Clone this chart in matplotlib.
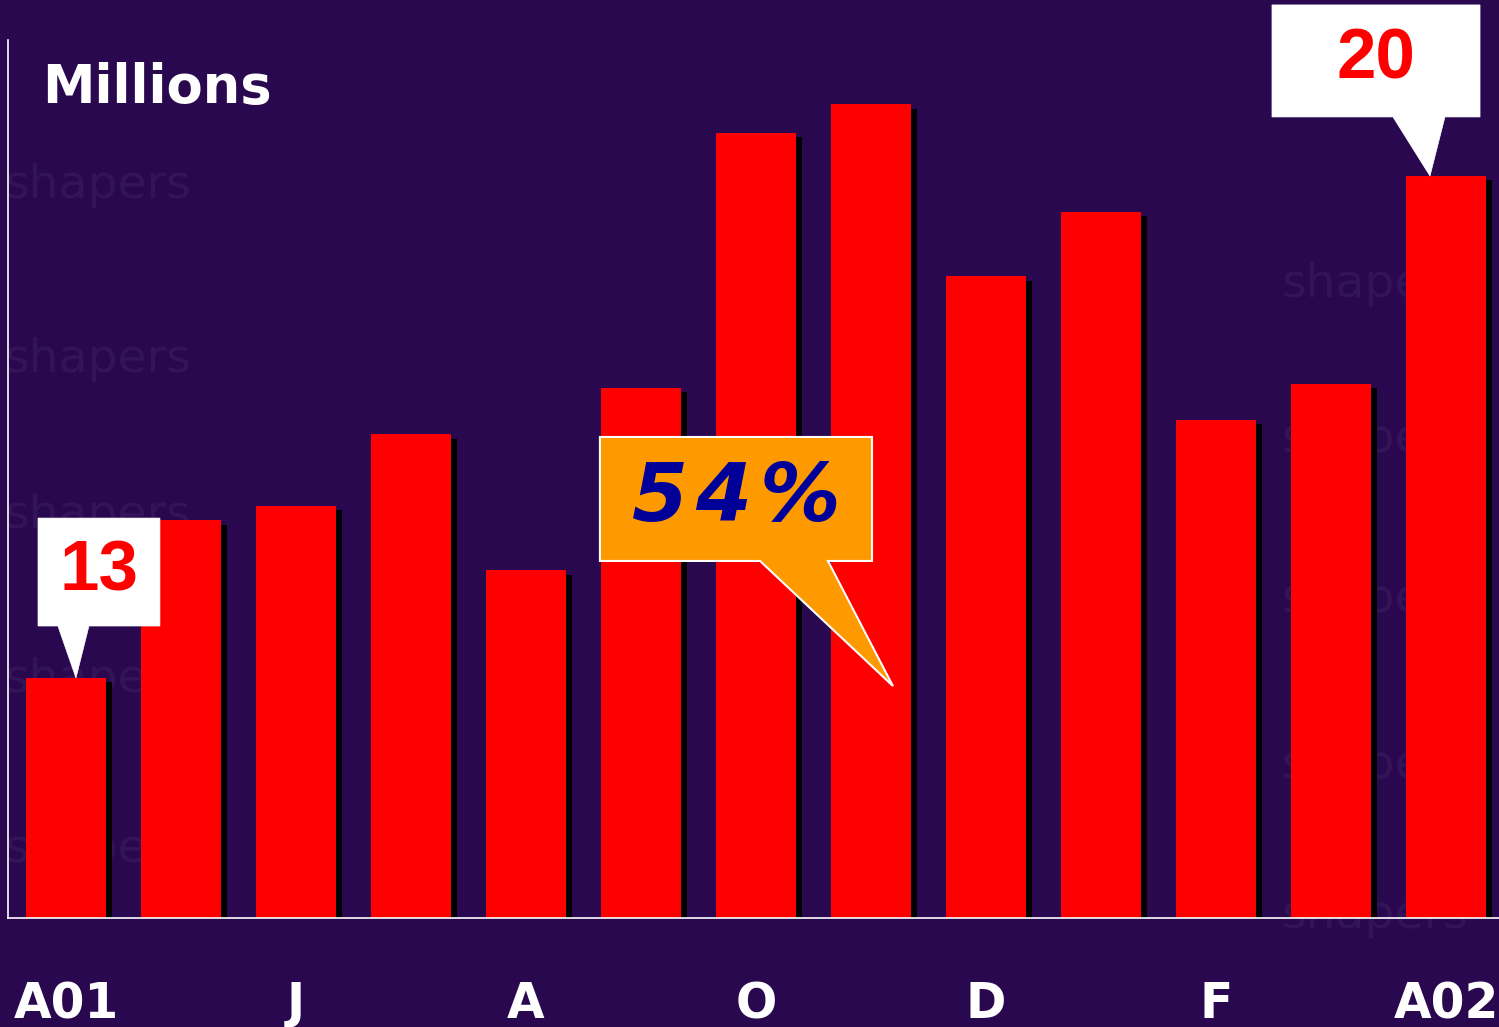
import matplotlib
matplotlib.use("Agg")
import matplotlib.pyplot as plt
import matplotlib.patheffects as pe
from matplotlib.patches import Polygon
import numpy as np

# monthly values, millions (Apr 01 .. Apr 02)
months = ["A01", "M", "J", "J", "A", "S", "O", "N", "D", "J", "F", "M", "A02"]
values = [13.0, 15.2, 15.4, 16.4, 14.5, 17.05, 20.6, 21.0, 18.6, 19.5, 16.6, 17.1, 20.0]
tick_idx = [0, 2, 4, 6, 8, 10, 12]

BG = "#2a0850"
RED = "#ff0000"
ORANGE = "#ff9900"
NAVY = "#000099"


def callout(ax, box, base, tip, fc, ec, lw):
    x0, x1, y0, y1 = box
    verts = [(x0, y1), (x1, y1), (x1, y0), (base[1], y0), tip, (base[0], y0), (x0, y0)]
    ax.add_patch(Polygon(verts, closed=True, fc=fc, ec=ec, lw=lw,
                         joinstyle="miter", clip_on=False, zorder=5))
    return (x0 + x1) / 2, (y0 + y1) / 2


fig = plt.figure(figsize=(14.99, 10.27), dpi=100, facecolor=BG)

# faint "shapers" watermark in the background
wm = dict(color="white", alpha=0.05, fontsize=34, family="DejaVu Sans", zorder=-5)
for ypx in [185, 360, 515, 680, 850]:
    fig.text(0.003, 1 - ypx / 1027, "shapers", va="center", **wm)
for ypx in [285, 440, 600, 765, 915]:
    fig.text(0.855, 1 - ypx / 1027, "shapers", va="center", **wm)

ax = fig.add_axes([8 / 1499, 109 / 1027, 1491 / 1499, 878 / 1027])
ax.patch.set_visible(False)
ymin, ymax = 9.653, 21.897
ax.set_xlim(-0.504, 12.461)
ax.set_ylim(ymin, ymax)

x = np.arange(len(values))
ax.bar(x, np.array(values) - ymin, bottom=ymin, width=0.696, color=RED, zorder=2,
       path_effects=[pe.SimplePatchShadow(offset=(4.3, -3.2), shadow_rgbFace="black", alpha=1.0),
                     pe.Normal()])

for side in ["top", "right"]:
    ax.spines[side].set_visible(False)
for side in ["left", "bottom"]:
    ax.spines[side].set_color("white")
    ax.spines[side].set_linewidth(1.2)
    ax.spines[side].set_zorder(3)

ax.set_yticks([])
ax.set_xticks(tick_idx)
ax.set_xticklabels([months[i] for i in tick_idx], color="white", fontsize=35,
                   fontweight="bold", family="DejaVu Sans")
ax.tick_params(axis="x", length=0, pad=45)

fig.text(42 / 1499, 1 - 103 / 1027, "Millions", color="white", fontsize=38,
         fontweight="bold", family="DejaVu Sans", va="baseline", ha="left")

# value callouts
cx, cy = callout(ax, (-0.243, 0.817, 13.725, 15.23), (-0.07, 0.20),
                 (0.087, values[0]), "white", "white", 0.5)
ax.text(cx, cy, f"{values[0]:.0f}", color=RED, fontsize=51, fontweight="bold",
        family="Liberation Sans", ha="center", va="center", zorder=6)

cx, cy = callout(ax, (10.487, 12.296, 20.824, 22.386), (11.539, 11.991),
                 (11.861, values[-1]), "white", "white", 0.5)
ax.text(cx, cy, f"{values[-1]:.0f}", color=RED, fontsize=51, fontweight="bold",
        family="Liberation Sans", ha="center", va="center", zorder=6)

growth = round((values[-1] / values[0] - 1) * 100)
cx, cy = callout(ax, (4.643, 7.009, 14.632, 16.361), (6.035, 6.626),
                 (7.191, 12.888), ORANGE, "white", 1.5)
ax.text(cx, cy, "\u200a".join(f"{growth}%"), color=NAVY, fontsize=58, fontweight="bold",
        style="italic", family="DejaVu Sans", ha="center", va="center", zorder=6)

fig.savefig("out.png", dpi=100, facecolor=BG)
